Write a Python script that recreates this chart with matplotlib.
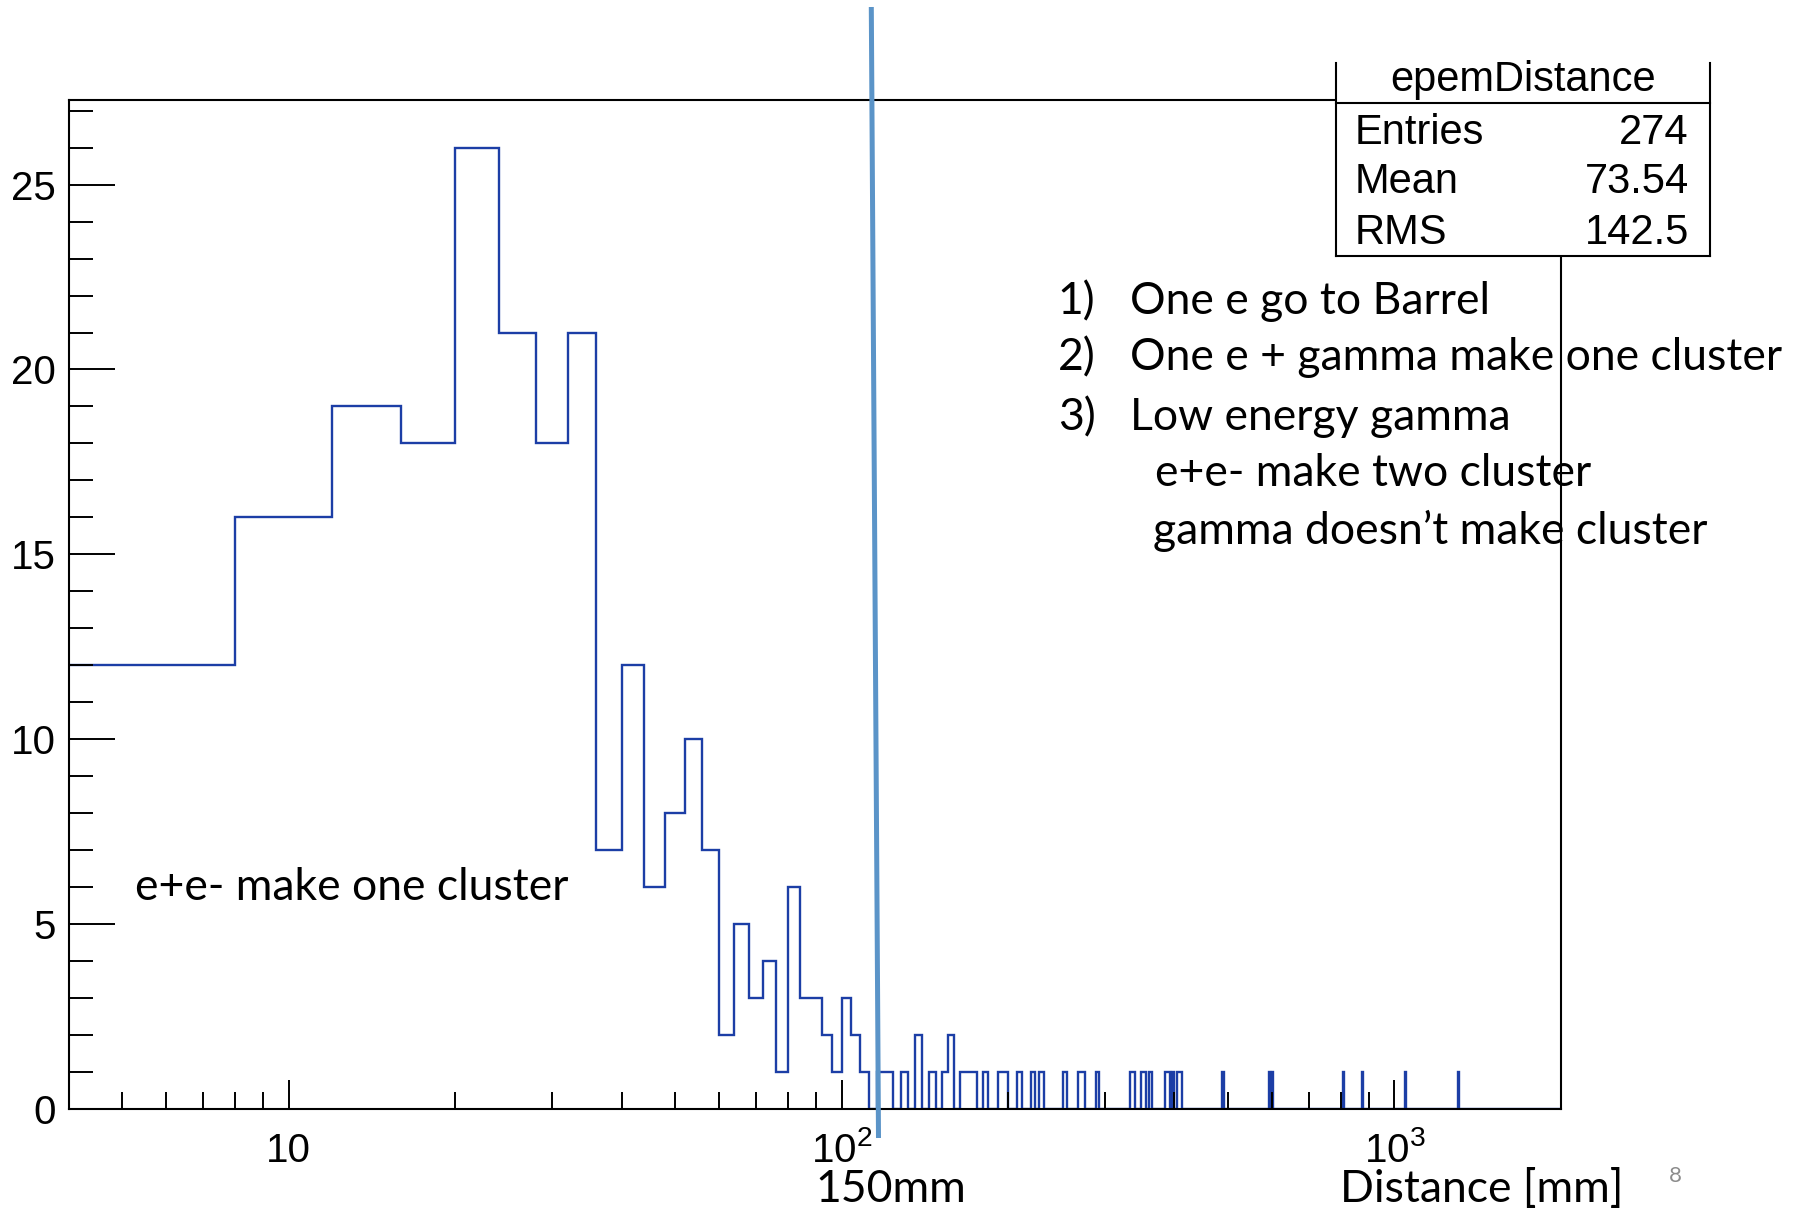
import numpy as np
import matplotlib
matplotlib.use("Agg")
import matplotlib.pyplot as plt
from matplotlib.patches import Rectangle
from matplotlib.lines import Line2D
from matplotlib.ticker import (FixedLocator, FixedFormatter, NullFormatter,
                               MultipleLocator, LogLocator)

# ---------------- data ----------------
bin_width = 4          # mm
x_min, x_max = 4, 2000
y_max = 27.3

# contiguous bins from 4 mm to 112 mm
head_counts = [12, 16, 19, 18, 26, 21, 18, 21, 7, 12, 6, 8, 10, 7,
               2, 5, 3, 4, 1, 6, 3, 3, 2, 1, 3, 2, 1]
# sparse tail: lower bin edge (mm) and counts
tail_edges = [116, 120, 128, 136, 144, 152, 156, 164, 168, 172, 180, 192, 196,
              208, 220, 228, 252, 268, 272, 288, 332, 336, 348, 352, 360,
              384, 388, 396, 404, 408, 488, 592, 600, 808, 872, 1044, 1304]
tail_counts = [1, 1, 1, 2, 1, 1, 2, 1, 1, 1, 1, 1, 1,
               1, 1, 1, 1, 1, 1, 1, 1, 1, 1, 1, 1,
               1, 1, 1, 1, 1, 1, 1, 1, 1, 1, 1, 1]

x_tick_values = [10, 100, 1000]
x_tick_labels = ["10", r"$10^{2}$", r"$10^{3}$"]

stats_title = "epemDistance"
stats_labels = ["Entries", "Mean", "RMS"]
stats_values = ["274", "73.54", "142.5"]

note_left = "e+e- make one cluster"
list_nums = ["1)", "2)", "3)"]
list_items = ["One e go to Barrel", "One e + gamma make one cluster", "Low energy gamma"]
sub_items = ["e+e- make two cluster", "gamma doesn\u2019t make cluster"]
cut_label = "150mm"
x_title = "Distance [mm]"
page_num = "8"

# ---------------- build histogram ----------------
edges = np.arange(x_min, x_max + bin_width, bin_width)
counts = np.zeros(len(edges) - 1)
counts[:len(head_counts)] = head_counts
for e, c in zip(tail_edges, tail_counts):
    counts[(e - x_min) // bin_width] = c

plt.rcParams["mathtext.fontset"] = "custom"
plt.rcParams["mathtext.rm"] = "Liberation Sans"
plt.rcParams["mathtext.it"] = "Liberation Sans:italic"
plt.rcParams["font.family"] = ["Liberation Sans", "DejaVu Sans"]

W, H = 1793, 1210
fig = plt.figure(figsize=(W / 100, H / 100), dpi=100)
fig.patch.set_facecolor("white")

ax_l, ax_r, ax_t, ax_b = 68.6, 1560.9, 99.5, 1109.2
ax = fig.add_axes([ax_l / W, 1 - ax_b / H, (ax_r - ax_l) / W, (ax_b - ax_t) / H])

hist_color = "#1c3ea6"
ax.stairs(counts, edges, color=hist_color, linewidth=1.7, baseline=None)

ax.set_xscale("log")
ax.set_xlim(x_min, x_max)
ax.set_ylim(0, y_max)

for s in ax.spines.values():
    s.set_linewidth(1.5)
    s.set_color("black")

ax.yaxis.set_major_locator(MultipleLocator(5))
ax.yaxis.set_minor_locator(MultipleLocator(1))
ax.xaxis.set_major_locator(FixedLocator(x_tick_values))
ax.xaxis.set_major_formatter(FixedFormatter(x_tick_labels))
ax.xaxis.set_minor_locator(LogLocator(base=10, subs=np.arange(2, 10), numticks=100))
ax.xaxis.set_minor_formatter(NullFormatter())

ax.tick_params(axis="both", which="both", direction="in", width=1.4, colors="black")
ax.tick_params(axis="y", which="major", length=33, pad=9, labelsize=29)
ax.tick_params(axis="y", which="minor", length=17)
ax.tick_params(axis="x", which="major", length=21, pad=38, labelsize=29)
ax.tick_params(axis="x", which="minor", length=12)
for t in ax.xaxis.get_major_ticks():
    t.label1.set_verticalalignment("baseline")

# ---------------- stats box ----------------
bx0, bx1 = 1168 / 1568, 1495 / 1568
by_top, by_bot = 1 - 55 / 1058, 1 - 224 / 1058
by_sep = 1 - 90 / 1058
fig.add_artist(Rectangle((bx0, by_bot), bx1 - bx0, by_top - by_bot,
                         transform=fig.transFigure, facecolor="white",
                         edgecolor="none", zorder=3))
for xs, ys in [([bx0, bx0], [by_top, by_bot]), ([bx1, bx1], [by_top, by_bot]),
               ([bx0, bx1], [by_bot, by_bot]), ([bx0, bx1], [by_sep, by_sep])]:
    fig.add_artist(Line2D(xs, ys, transform=fig.transFigure, color="black",
                          linewidth=1.5, zorder=4))
fig.text((bx0 + bx1) / 2, 1 - 70 / 1058, stats_title, ha="center", va="center",
         fontsize=30, zorder=5)
row_y = [116, 159, 204]
for lab, val, yy in zip(stats_labels, stats_values, row_y):
    fig.text(1185 / 1568, 1 - yy / 1058, lab, ha="left", va="center", fontsize=30, zorder=5)
    fig.text(1477 / 1568, 1 - yy / 1058, val, ha="right", va="center", fontsize=30, zorder=5)

# ---------------- overlay annotations ----------------
fig.add_artist(Line2D([871.3 / W, 878.5 / W], [1 - 7 / H, 1 - 1138 / H],
                      transform=fig.transFigure, color="#5b94c8",
                      linewidth=3.6, zorder=6, solid_capstyle="butt"))

afont = ["Lato", "DejaVu Sans"]
fs = 32
fig.text(118 / 1568, 1 - 776 / 1058, note_left, ha="left", va="center",
         fontsize=fs, family=afont, zorder=7)
for num, item, yy in zip(list_nums, list_items, [264, 313, 365]):
    fig.text(925 / 1568, 1 - yy / 1058, num, ha="left", va="center",
             fontsize=fs, family=afont, zorder=7)
    fig.text(988 / 1568, 1 - yy / 1058, item, ha="left", va="center",
             fontsize=fs, family=afont, zorder=7)
for item, xx, yy in zip(sub_items, [1010, 1008], [414, 464]):
    fig.text(xx / 1568, 1 - yy / 1058, item, ha="left", va="center",
             fontsize=fs, family=afont, zorder=7)
fig.text(713 / 1568, 1 - 1040 / 1058, cut_label, ha="left", va="center",
         fontsize=fs, family=afont, zorder=7)
fig.text(1172 / 1568, 1 - 1040 / 1058, x_title, ha="left", va="center",
         fontsize=fs, family=afont, zorder=7)
fig.text(1465 / 1568, 1 - 1028 / 1058, page_num, ha="center", va="center",
         fontsize=16, family=afont, color="#8c8c8c", zorder=7)

fig.savefig("out.png", dpi=100, facecolor="white")
